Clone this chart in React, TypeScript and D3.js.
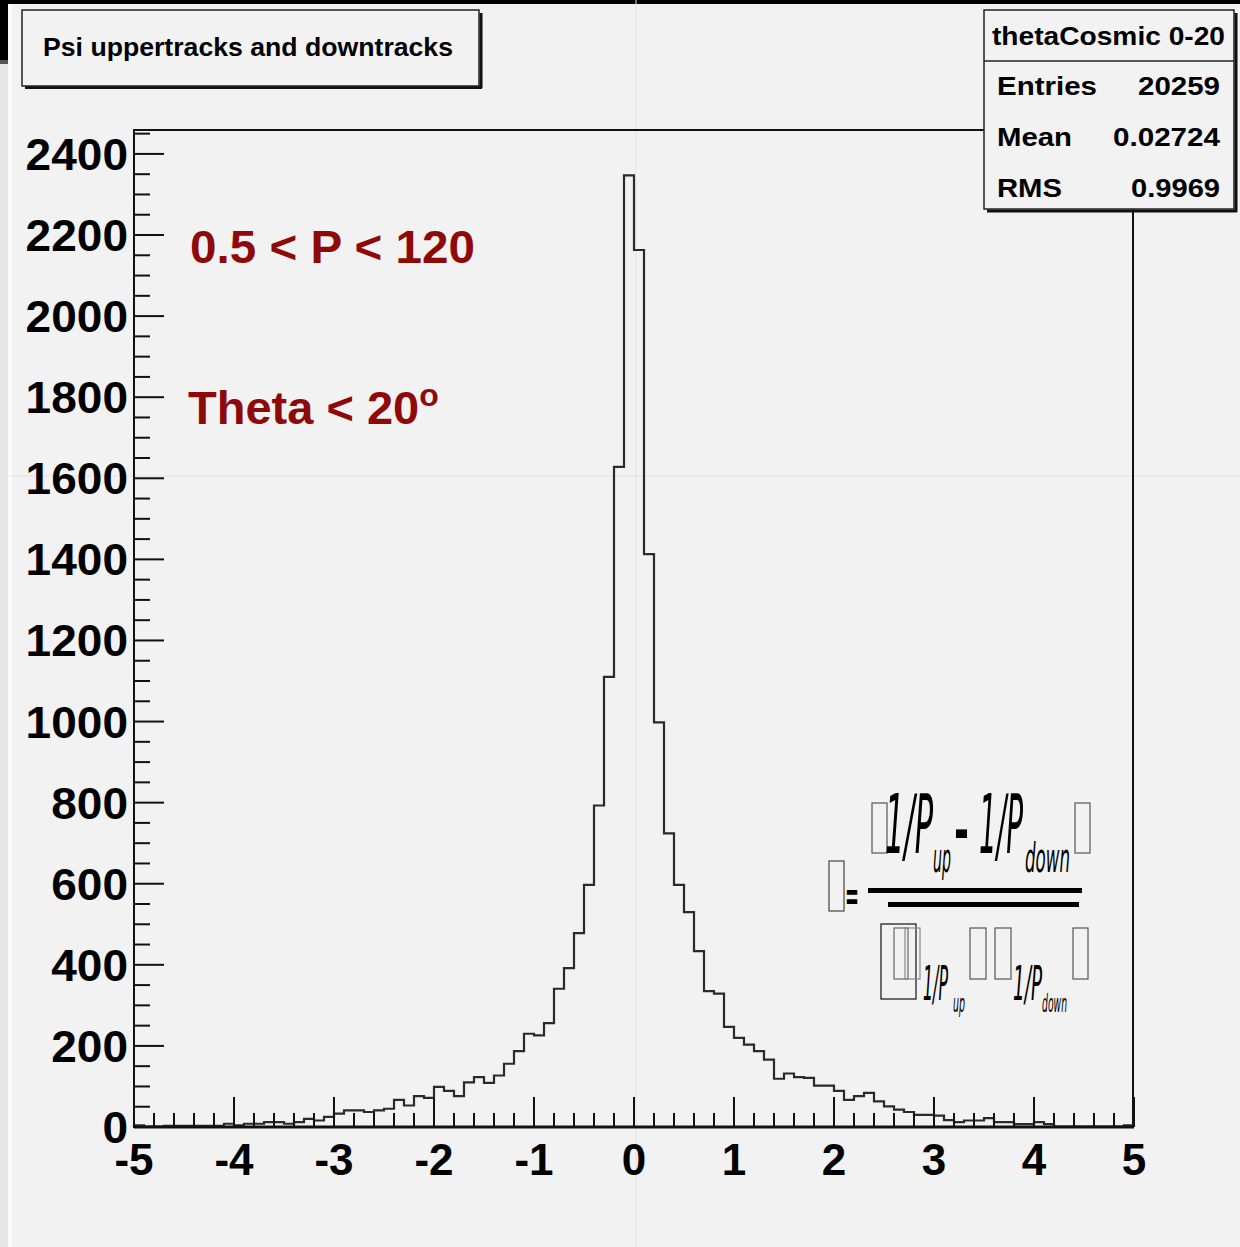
import React from "react";
import * as d3 from "d3";

// ---- Data ----
const histTitle = "Psi uppertracks and downtracks";
const statsName = "thetaCosmic 0-20";
const statsLabels = ["Entries", "Mean", "RMS"];
const statsValues = ["20259", "0.02724", "0.9969"];
const xMin = -5;
const xMax = 5;
const binWidth = 0.1;
const counts = [
  4, 1, 1, 3, 3, 3, 3, 3, 3, 8,
  4, 8, 8, 12, 12, 8, 12, 20, 16, 25,
  33, 41, 41, 37, 41, 45, 67, 53, 76, 72,
  99, 89, 76, 110, 123, 109, 127, 156, 187, 230,
  226, 256, 341, 392, 478, 597, 793, 1110, 1628, 2347,
  2163, 1413, 998, 724, 597, 530, 434, 335, 329, 247,
  220, 203, 187, 166, 119, 132, 123, 121, 102, 102,
  89, 67, 76, 84, 63, 51, 43, 37, 30, 30,
  28, 17, 12, 16, 16, 22, 12, 12, 7, 7,
  12, 7, 1, 1, 1, 1, 1, 1, 1, 4,
];
const xTickValues = [-5, -4, -3, -2, -1, 0, 1, 2, 3, 4, 5];
const yTickValues = [0, 200, 400, 600, 800, 1000, 1200, 1400, 1600, 1800, 2000, 2200, 2400];
const yMaxShown = 2459;

const W = 1240;
const H = 1247;
const plot = { left: 134, right: 1134, top: 130, bottom: 1127 };
const FONT = "'Liberation Sans', Arial, Helvetica, sans-serif";
const RED = "#8e0a0a";
const statsLabelWidths = [100, 75, 65];
const statsValueWidths = [82, 107, 89];

export default function App() {
  const x = d3.scaleLinear().domain([xMin, xMax]).range([plot.left, plot.right]);
  const y = d3.scaleLinear().domain([0, yMaxShown]).range([plot.bottom, plot.top]);

  const pts: [number, number][] = [[xMin, 0]];
  counts.forEach((c, i) => {
    const lo = xMin + i * binWidth;
    const hi = lo + binWidth;
    pts.push([lo, c], [hi, c]);
  });
  pts.push([xMax, 0]);
  const path = d3.line<[number, number]>().x((d) => x(d[0])).y((d) => y(d[1]))(pts) || "";

  const yMinor = d3.range(0, yMaxShown, 50).filter((v) => v % 200 !== 0);
  const xMinor = d3.range(0, 51).map((i) => xMin + i * 0.2).filter((v) => Math.abs(v - Math.round(v)) > 1e-6);

  const tofu = (bx: number, by: number, bw: number, bh: number, key: string, col = "#555") => (
    <rect key={key} x={bx} y={by} width={bw} height={bh} fill="none" stroke={col} strokeWidth={1.2} />
  );

  const ff = "'DejaVu Sans Condensed', 'DejaVu Sans', sans-serif";

  return (
    <svg width={W} height={H} style={{ position: "absolute", left: 0, top: 0 }} xmlns="http://www.w3.org/2000/svg">
      <rect x={0} y={0} width={W} height={H} fill="#f2f2f2" />
      {/* screenshot edge artifacts */}
      <rect x={0} y={64} width={8} height={H - 64} fill="#e6e6e6" />
      <rect x={8} y={4} width={4} height={H - 4} fill="#fbfbfb" />
      <rect x={0} y={0} width={8} height={60} fill="#000" />
      <rect x={0} y={60} width={8} height={4} fill="#555" />
      <rect x={0} y={0} width={W} height={4} fill="#000" />
      {/* faint lines */}
      <line x1={0} x2={W} y1={476} y2={476} stroke="#e2e2e2" strokeWidth={1} />
      <line x1={636} x2={636} y1={0} y2={H} stroke="#e2e2e2" strokeWidth={1} />

      {/* frame */}
      <rect x={plot.left} y={plot.top} width={plot.right - 1 - plot.left} height={plot.bottom - plot.top} fill="none" stroke="#111" strokeWidth={2} />

      {/* histogram */}
      <path d={path} fill="none" stroke="#2a2a2a" strokeWidth={2.2} />

      {/* y axis ticks */}
      {yTickValues.map((v) => (
        <line key={"ym" + v} x1={plot.left} x2={plot.left + 30} y1={y(v)} y2={y(v)} stroke="#111" strokeWidth={2} />
      ))}
      {yMinor.map((v) => (
        <line key={"yn" + v} x1={plot.left} x2={plot.left + 16} y1={y(v)} y2={y(v)} stroke="#111" strokeWidth={2} />
      ))}
      {yTickValues.map((v) => (
        <text key={"yl" + v} x={128} y={y(v) + 16} textAnchor="end" fontFamily={FONT} fontWeight="bold" fontSize={44}
          textLength={String(v).length * 25.6} lengthAdjust="spacingAndGlyphs" fill="#000">
          {v}
        </text>
      ))}

      {/* x axis ticks */}
      {xTickValues.map((v) => (
        <line key={"xm" + v} x1={x(v)} x2={x(v)} y1={plot.bottom} y2={plot.bottom - 30} stroke="#111" strokeWidth={2} />
      ))}
      {xMinor.map((v) => (
        <line key={"xn" + v} x1={x(v)} x2={x(v)} y1={plot.bottom} y2={plot.bottom - 14} stroke="#111" strokeWidth={2} />
      ))}
      <line x1={plot.left} x2={plot.right} y1={plot.bottom} y2={plot.bottom} stroke="#111" strokeWidth={3} />
      <line x1={plot.left} x2={plot.left} y1={plot.top} y2={plot.bottom} stroke="#111" strokeWidth={2} />
      {xTickValues.map((v) => (
        <text key={"xl" + v} x={x(v)} y={1175} textAnchor="middle" fontFamily={FONT} fontWeight="bold" fontSize={44} fill="#000">
          {v}
        </text>
      ))}

      {/* title box */}
      <line x1={25} x2={482} y1={87.5} y2={87.5} stroke="#111" strokeWidth={3} />
      <line x1={481} x2={481} y1={13} y2={88} stroke="#111" strokeWidth={3} />
      <rect x={22} y={10} width={457} height={76} fill="#f2f2f2" stroke="#222" strokeWidth={1.5} />
      <text x={43} y={56} fontFamily={FONT} fontWeight="bold" fontSize={26} textLength={410} lengthAdjust="spacingAndGlyphs" fill="#000">
        {histTitle}
      </text>

      {/* stats box */}
      <line x1={987} x2={1237} y1={211} y2={211} stroke="#111" strokeWidth={3} />
      <line x1={1236} x2={1236} y1={13} y2={212} stroke="#111" strokeWidth={3} />
      <rect x={984} y={10} width={250} height={199} fill="#f2f2f2" stroke="#222" strokeWidth={1.5} />
      <line x1={984} x2={1234} y1={61} y2={61} stroke="#222" strokeWidth={1.5} />
      <text x={992} y={45} fontFamily={FONT} fontWeight="bold" fontSize={25} textLength={233} lengthAdjust="spacingAndGlyphs" fill="#000">
        {statsName}
      </text>
      {statsLabels.map((l, i) => (
        <text key={"sl" + l} x={997} y={95 + i * 51} fontFamily={FONT} fontWeight="bold" fontSize={26}
          textLength={statsLabelWidths[i]} lengthAdjust="spacingAndGlyphs" fill="#000">
          {l}
        </text>
      ))}
      {statsValues.map((v, i) => (
        <text key={"sv" + i} x={1220 - statsValueWidths[i]} y={95 + i * 51} fontFamily={FONT} fontWeight="bold" fontSize={26}
          textLength={statsValueWidths[i]} lengthAdjust="spacingAndGlyphs" fill="#000">
          {v}
        </text>
      ))}

      {/* red annotations */}
      <text x={190} y={263} fontFamily={FONT} fontWeight="bold" fontSize={47} fill={RED} textLength={285} lengthAdjust="spacingAndGlyphs">
        0.5 &lt; P &lt; 120
      </text>
      <text x={188} y={424} fontFamily={FONT} fontWeight="bold" fontSize={47} fill={RED}>
        Theta &lt; 20
        <tspan fontSize={32} dy={-18}>o</tspan>
      </text>

      {/* formula with missing glyphs */}
      {tofu(829, 861, 15, 50, "t0", "#444")}
      <text x={845} y={910} fontFamily={ff} fontWeight="bold" fontSize={40} textLength={14} lengthAdjust="spacingAndGlyphs" fill="#000">=</text>
      <line x1={868} x2={1082} y1={890.5} y2={890.5} stroke="#000" strokeWidth={5} />
      <line x1={888} x2={1079} y1={904.5} y2={904.5} stroke="#000" strokeWidth={5} />
      {tofu(872, 803, 15, 50, "t1")}
      <text x={885} y={853} fontFamily={ff} fontStyle="italic" fontSize={82} textLength={48} lengthAdjust="spacingAndGlyphs" fill="#000">1/P</text>
      <text x={933} y={872} fontFamily={ff} fontStyle="italic" fontSize={40} textLength={18} lengthAdjust="spacingAndGlyphs" fill="#000">up</text>
      <text x={954} y={851} fontFamily={ff} fontWeight="bold" fontSize={60} textLength={15} lengthAdjust="spacingAndGlyphs" fill="#000">-</text>
      <text x={979} y={853} fontFamily={ff} fontStyle="italic" fontSize={82} textLength={44} lengthAdjust="spacingAndGlyphs" fill="#000">1/P</text>
      <text x={1025} y={872} fontFamily={ff} fontStyle="italic" fontSize={40} textLength={45} lengthAdjust="spacingAndGlyphs" fill="#000">down</text>
      {tofu(1075, 803, 15, 50, "t2")}
      {tofu(881, 924, 35, 75, "t3", "#111")}
      {tofu(894, 928, 14, 51, "t4", "#666")}
      {tofu(905, 928, 15, 51, "t5", "#888")}
      <text x={923} y={1000} fontFamily={ff} fontStyle="italic" fontSize={48} textLength={25} lengthAdjust="spacingAndGlyphs" fill="#000">1/P</text>
      <text x={953} y={1012} fontFamily={ff} fontStyle="italic" fontSize={24} textLength={12} lengthAdjust="spacingAndGlyphs" fill="#000">up</text>
      {tofu(970, 928, 16, 51, "t6")}
      {tofu(995, 928, 16, 51, "t7")}
      <text x={1013} y={1000} fontFamily={ff} fontStyle="italic" fontSize={48} textLength={29} lengthAdjust="spacingAndGlyphs" fill="#000">1/P</text>
      <text x={1042} y={1012} fontFamily={ff} fontStyle="italic" fontSize={24} textLength={25} lengthAdjust="spacingAndGlyphs" fill="#000">down</text>
      {tofu(1073, 928, 15, 51, "t8")}
    </svg>
  );
}
